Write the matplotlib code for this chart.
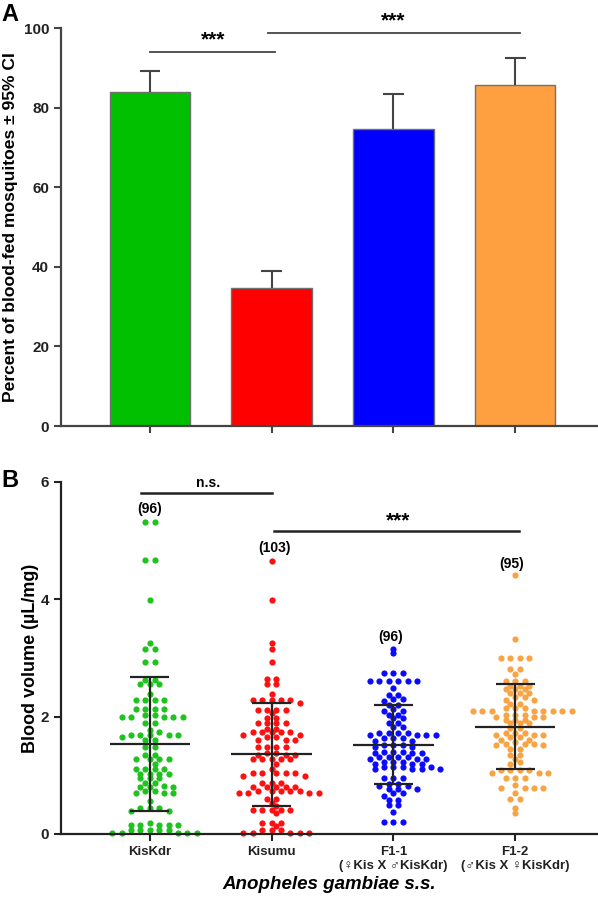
import numpy as np
import matplotlib
matplotlib.use("Agg")
import matplotlib.pyplot as plt

plt.rcParams['font.family'] = ['Liberation Sans', 'DejaVu Sans']
plt.rcParams['font.weight'] = 'bold'

# ---- panel A data ----
strains = ['KisKdr', 'Kisumu', 'F1-1\n(♀Kis X ♂KisKdr)', 'F1-2\n(♂Kis X ♀KisKdr)']
pct_fed = [84.0, 34.6, 74.6, 85.6]
ci_upper = [89.1, 38.9, 83.5, 92.4]
bar_colors = ['#00c000', '#ff0000', '#0000ff', '#ffa040']

# ---- panel B data (blood volume, uL/mg) ----
vol_kiskdr = [5.31, 5.31, 4.67, 4.67, 3.98, 3.26, 3.15, 3.15, 2.93, 2.93,
              2.62, 2.62, 2.56, 2.56, 2.56, 2.39, 2.29, 2.29, 2.29, 2.29,
              2.13, 2.13, 2.13, 2.13, 2.03, 2.03, 1.99, 1.99, 1.99, 1.99, 1.99,
              1.90, 1.90, 1.78, 1.73, 1.69, 1.69, 1.69, 1.69, 1.69, 1.66,
              1.61, 1.61, 1.48, 1.48, 1.34, 1.34, 1.27, 1.27, 1.27, 1.27, 1.20,
              1.10, 1.10, 1.10, 1.10, 1.03, 1.03, 1.03, 1.03, 0.95, 0.95, 0.95,
              0.87, 0.87, 0.82, 0.80, 0.80, 0.80, 0.74, 0.74, 0.70, 0.70, 0.70,
              0.57, 0.44, 0.44, 0.44, 0.39, 0.39, 0.19, 0.16, 0.16, 0.16, 0.16,
              0.16, 0.07, 0.07, 0.07, 0.07, 0.07, 0.02, 0.02, 0.02, 0.02, 0.02]
vol_kisumu = [4.65, 3.98, 3.26, 3.15, 2.93, 2.64, 2.64, 2.56, 2.56, 2.39,
              2.29, 2.29, 2.29, 2.29, 2.29, 2.24, 2.12, 2.12, 2.12, 2.12, 2.06,
              1.98, 1.98, 1.89, 1.89, 1.89, 1.89, 1.79, 1.79,
              1.73, 1.73, 1.73, 1.73, 1.73, 1.69, 1.69, 1.65, 1.65,
              1.61, 1.61, 1.61, 1.48, 1.48, 1.48, 1.48, 1.38, 1.38,
              1.35, 1.35, 1.35, 1.27, 1.27, 1.27, 1.27, 1.27, 1.20, 1.10,
              1.04, 1.04, 1.04, 1.04, 1.04, 0.99, 0.99, 0.87, 0.87, 0.87,
              0.80, 0.80, 0.80, 0.80, 0.80, 0.74, 0.74, 0.74, 0.74, 0.74,
              0.69, 0.69, 0.69, 0.69, 0.59, 0.59, 0.53, 0.47,
              0.41, 0.41, 0.41, 0.41, 0.41, 0.35, 0.19, 0.19, 0.19, 0.13,
              0.07, 0.07, 0.07, 0.02, 0.02, 0.02, 0.02, 0.02]
vol_f11 = [3.16, 3.08, 2.75, 2.75, 2.75, 2.60, 2.60, 2.60, 2.60, 2.60, 2.60,
           2.48, 2.37, 2.37, 2.30, 2.30, 2.27, 2.20, 2.20, 2.13, 2.10, 2.10,
           2.03, 2.03, 1.97, 1.97, 1.89, 1.89, 1.83, 1.83,
           1.72, 1.72, 1.72, 1.72, 1.69, 1.69, 1.69, 1.69, 1.63, 1.63, 1.63,
           1.59, 1.59, 1.52, 1.52, 1.52, 1.49, 1.49, 1.40, 1.40, 1.40,
           1.38, 1.38, 1.38, 1.32, 1.32, 1.32, 1.32, 1.27, 1.27, 1.27,
           1.23, 1.23, 1.23, 1.20, 1.20, 1.20, 1.15, 1.15, 1.15, 1.15,
           1.11, 1.11, 1.11, 1.11, 0.95, 0.95, 0.95, 0.86, 0.86, 0.81, 0.81,
           0.76, 0.76, 0.76, 0.69, 0.69, 0.64, 0.58, 0.58, 0.49, 0.49, 0.38,
           0.21, 0.21, 0.21]
vol_f12 = [4.41, 3.32, 3.00, 3.00, 3.00, 3.00, 2.82, 2.82, 2.72,
           2.60, 2.60, 2.60, 2.53, 2.53, 2.53, 2.47, 2.47, 2.47,
           2.40, 2.40, 2.40, 2.34, 2.34, 2.29, 2.29, 2.22, 2.22,
           2.15, 2.15, 2.15, 2.10, 2.10, 2.10, 2.10, 2.10, 2.10, 2.10, 2.10,
           2.03, 2.03, 2.03, 2.00, 2.00, 2.00, 1.95, 1.95, 1.95,
           1.89, 1.89, 1.89, 1.81, 1.81, 1.72, 1.72, 1.72, 1.69, 1.69, 1.69,
           1.66, 1.66, 1.61, 1.61, 1.57, 1.54, 1.54, 1.54, 1.51, 1.51,
           1.44, 1.44, 1.35, 1.35, 1.28, 1.22, 1.20, 1.09, 1.09, 1.09, 1.09,
           1.04, 1.04, 1.04, 0.95, 0.95, 0.95, 0.83, 0.78, 0.78, 0.78, 0.78,
           0.70, 0.60, 0.60, 0.44, 0.36]
groups = [vol_kiskdr, vol_kisumu, vol_f11, vol_f12]
n_labels = ['(96)', '(103)', '(96)', '(95)']
vol_mean = [1.54, 1.36, 1.52, 1.83]
sd_high = [2.68, 2.24, 2.20, 2.56]
sd_low = [0.40, 0.47, 0.85, 1.11]
dot_colors = ['#1ec31e', '#ff1010', '#0a0aff', '#f9a443']

XLIM = (-0.73, 3.68)

fig = plt.figure(figsize=(5.98, 8.98), dpi=100)
axA = fig.add_axes([0.102, 0.5256, 0.898, 0.4432])
axB = fig.add_axes([0.102, 0.0713, 0.898, 0.392])

x = np.arange(len(strains))

# ---------------- panel A ----------------
axA.bar(x, pct_fed, width=0.66, color=bar_colors, edgecolor='#707070', linewidth=1.0, zorder=2)
axA.vlines(x, pct_fed, ci_upper, color='#444444', lw=1.5, zorder=3)
axA.hlines(ci_upper, x - 0.085, x + 0.085, color='#444444', lw=1.5, zorder=3)

axA.plot([0.0, 1.03], [94.0, 94.0], color='#444444', lw=1.3, clip_on=False)
axA.text(0.52, 94.6, '***', ha='center', va='bottom', fontsize=15)
axA.plot([0.97, 3.04], [98.7, 98.7], color='#444444', lw=1.3, clip_on=False)
axA.text(2.0, 99.3, '***', ha='center', va='bottom', fontsize=15)

axA.set_xlim(*XLIM)
axA.set_ylim(0, 100)
axA.set_yticks([0, 20, 40, 60, 80, 100])
axA.set_xticks(x)
axA.set_xticklabels([])
axA.set_ylabel('Percent of blood-fed mosquitoes ± 95% CI', fontsize=12.6, fontweight='bold')
axA.yaxis.set_label_coords(-0.08, 0.5)

# ---------------- panel B ----------------
fig_w_px = fig.get_figwidth() * fig.dpi
fig_h_px = fig.get_figheight() * fig.dpi
px_x = axB.get_position().width * fig_w_px / (XLIM[1] - XLIM[0])
px_y = axB.get_position().height * fig_h_px / 6.0

gap = 9.4   # horizontal spacing of dots in a row (px)
gx, gy = 8.4, 4.2


def swarm_offsets(vals):
    vals = np.asarray(vals)
    uniq, counts = np.unique(vals, return_counts=True)
    placed = []
    offs = {}
    for v, n in zip(uniq[::-1], counts[::-1]):
        y = v * px_y
        res = []
        for i in range(n):
            b = (i - (n - 1) / 2.0) * gap
            for k in range(60):
                step = (k + 1) // 2 * (1 if k % 2 else -1) * gap / 2.0
                cx = b + step
                ok = all(((cx - px) / gx) ** 2 + ((y - py) / gy) ** 2 >= 1.0 for px, py in placed)
                if ok:
                    break
            placed.append((cx, y))
            res.append(cx)
        offs[v] = res
    xs = []
    used = {v: 0 for v in offs}
    for v in vals:
        xs.append(offs[v][used[v]] / px_x)
        used[v] += 1
    return np.array(xs)


for i, vals in enumerate(groups):
    dx = swarm_offsets(vals)
    axB.scatter(i + dx, vals, s=20, color=dot_colors[i], linewidths=0, zorder=2, clip_on=False)
    axB.hlines(vol_mean[i], i - 0.33, i + 0.33, color='#222222', lw=1.6, zorder=3)
    axB.vlines(i, sd_low[i], sd_high[i], color='#222222', lw=1.6, zorder=3)
    axB.hlines([sd_low[i], sd_high[i]], i - 0.16, i + 0.16, color='#222222', lw=1.6, zorder=3)

n_pos = [(0.0, 5.54), (1.02, 4.87), (1.98, 3.36), (2.97, 4.60)]
for (nx, ny), lab in zip(n_pos, n_labels):
    axB.text(nx, ny, lab, ha='center', va='center', fontsize=10)

axB.plot([-0.07, 1.0], [5.81, 5.81], color='#222222', lw=1.8, clip_on=False)
axB.text(0.48, 5.87, 'n.s.', ha='center', va='bottom', fontsize=10)
axB.plot([1.02, 3.03], [5.16, 5.16], color='#222222', lw=1.8, clip_on=False)
axB.text(2.04, 5.18, '***', ha='center', va='bottom', fontsize=15)

axB.set_xlim(*XLIM)
axB.set_ylim(0, 6)
axB.set_yticks([0, 2, 4, 6])
axB.set_xticks(x)
axB.set_xticklabels(strains, fontsize=9.5, fontweight='bold', linespacing=1.2)
axB.set_ylabel('Blood volume (µL/mg)', fontsize=13, fontweight='bold')
axB.yaxis.set_label_coords(-0.041, 0.5)
axB.set_xlabel('Anopheles gambiae s.s.', fontsize=13.5, fontweight='bold', style='italic', labelpad=3)

for ax, col in ((axA, '#444444'), (axB, '#222222')):
    for s in ('top', 'right'):
        ax.spines[s].set_visible(False)
    for s in ('left', 'bottom'):
        ax.spines[s].set_color(col)
        ax.spines[s].set_linewidth(1.6)
    ax.tick_params(axis='both', colors=col, width=1.5, length=5, labelcolor='#222222')
    ax.tick_params(axis='y', labelsize=11)
    for lab in ax.get_yticklabels():
        lab.set_fontweight('bold')

fig.text(0.003, 0.997, 'A', fontsize=17, fontweight='bold', ha='left', va='top')
fig.text(0.003, 0.478, 'B', fontsize=17, fontweight='bold', ha='left', va='top')

fig.savefig('out.png', dpi=100)
